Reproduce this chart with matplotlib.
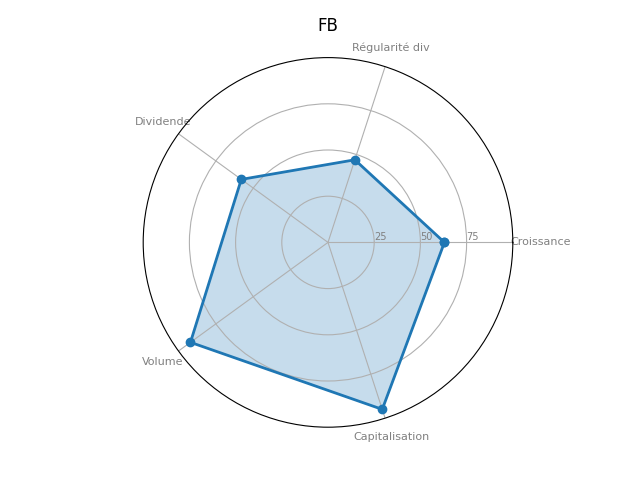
import numpy as np
import matplotlib
matplotlib.use("Agg")
import matplotlib.pyplot as plt
from matplotlib.transforms import ScaledTranslation

# Catégories et valeurs
categories = ['Croissance', 'Régularité div', 'Dividende', 'Volume', 'Capitalisation']
valeurs = [63, 47, 58, 92, 95]
titre = 'FB'

N = len(categories)
angles = [n / float(N) * 2 * np.pi for n in range(N)]
angles += angles[:1]
vals = valeurs + valeurs[:1]

fig = plt.figure(figsize=(6.4, 4.8), dpi=100)
ax = plt.subplot(111, polar=True)

plt.xticks(angles[:-1], categories, color='grey', size=8)
ax.set_rlabel_position(0)
plt.yticks([25, 50, 75], ["25", "50", "75"], color="grey", size=7)
plt.ylim(0, 100)

# décaler un peu le label "Croissance" vers la droite
lab = ax.get_xticklabels()[0]
lab.set_transform(lab.get_transform() + ScaledTranslation(0.08, 0, fig.dpi_scale_trans))

ax.plot(angles, vals, linewidth=2, linestyle='solid', marker='o', color='#1f77b4')
ax.fill(angles, vals, color='#1f77b4', alpha=0.25)

plt.title(titre, y=1.05)
plt.savefig('out.png')
